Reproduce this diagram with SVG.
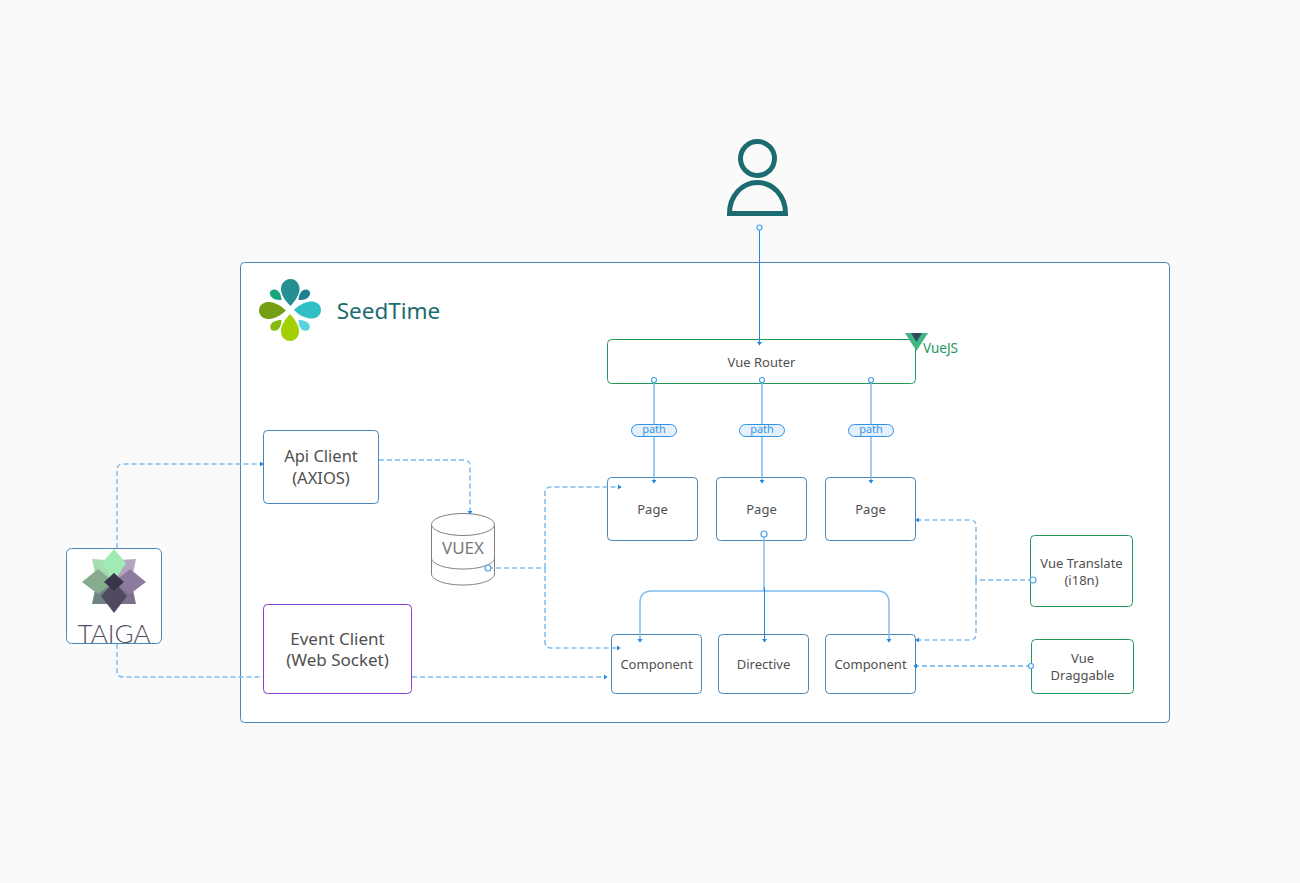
<svg xmlns="http://www.w3.org/2000/svg" width="1300" height="883" viewBox="0 0 1300 883">
<style>
.box{fill:#fff;stroke:#4a86b8;stroke-width:1}
.grn{fill:#fff;stroke:#22995a;stroke-width:1}
.pur{fill:#fff;stroke:#8a3fd1;stroke-width:1}
text{font-family:"Noto Sans","Open Sans","Liberation Sans",sans-serif;fill:#505050;text-anchor:middle}
.s13{font-size:13px}
.s16{font-size:16.500px}
.s17{font-size:17px}
.c{fill:none;stroke:#7fbcf0;stroke-width:1.500}
.d{stroke-dasharray:5 3}
.t{fill:none;stroke:#1e88e5;stroke-width:1}
.o{fill:#fff;stroke:#4ba3ec;stroke-width:1.200}
.pill{fill:#e4f1fc;stroke:#2f93e6;stroke-width:1}
.pt{font-size:11px;fill:#3c97e4}
</style>
<defs>
<marker id="a" markerWidth="6" markerHeight="6" refX="4" refY="3" orient="auto" markerUnits="userSpaceOnUse"><path d="M1 0.500L4.500 3L1 5.500Z" fill="#1e88e5"/></marker>
</defs>
<rect width="1300" height="883" fill="#fafafa"/>
<g id="container"><rect class="box" x="240.500" y="262.500" width="929" height="460" rx="4"/></g>
<g id="user" fill="none" stroke="#1c6b70" stroke-width="5"><circle cx="757.500" cy="158.500" r="17"/><path d="M729.500 213.500C729.500 196 742 182.500 757.500 182.500C773 182.500 785.500 196 785.500 213.500Z"/></g>
<g id="seedtime">
<path d="M290.500 279C297 279 300 285 299.500 290C298.500 297 294 302 290.500 306C286.500 302 282 297 281 290C280.500 285 284 279 290.500 279Z" fill="#258f92"/>
<path d="M290 341C283.500 341 280.500 335 281 330C282 323 286.500 318 290 314C293.500 318 298 323 299 330C299.500 335 296.500 341 290 341Z" fill="#a3d005"/>
<path d="M259 310.500C259 304 265 301.500 270 302C277 303 282 307 286 310.500C282 314 277 318 270 319C265 319.500 259 317 259 310.500Z" fill="#749f14"/>
<path d="M321 310C321 316.500 315 319 310 318.500C303 317.500 298 314 294 310C298 306 303 302.500 310 301.500C315 301 321 303.500 321 310Z" fill="#2fbfc4"/>
<path d="M270.500 291C273 288.500 277 289 279 292C281 295 281.500 298 281.500 300C279 300 275 300 272.500 298C270 296 269 293 270.500 291Z" fill="#14a57d"/>
<path d="M309.500 291C307 288.500 303 289 301 292C299 295 298.500 298 298.500 300C301 300 305 300 307.500 298C310 296 311 293 309.500 291Z" fill="#1c8090"/>
<path d="M271 329.500C273.500 331.500 277 331 279 328.500C281 326 281.500 322 281.500 320C279 320 275 320.500 272.500 322.500C270 324.500 269.500 327.500 271 329.500Z" fill="#85ba0e"/>
<path d="M309 329.500C306.500 331.500 303 331 301 328.500C299 326 298.500 322 298.500 320C301 320 305 320.500 307.500 322.500C310 324.500 310.500 327.500 309 329.500Z" fill="#55d6da"/>
<text x="388.500" y="319" style="font-size:22.500px;fill:#1c6b70">SeedTime</text>
</g>
<g id="vue-router"><rect class="grn" x="607.500" y="339.500" width="308" height="44" rx="4"/><text class="s13" x="761.500" y="366.500">Vue Router</text></g>
<g id="vuejs"><path d="M905 333H928L916.500 351Z" fill="#41b883"/><path d="M911 333H922L916.500 342Z" fill="#35495e"/><text x="940.500" y="353" style="font-size:13.500px;fill:#22995a">VueJS</text></g>
<g id="api-client"><rect class="box" x="263.500" y="430.500" width="115" height="73" rx="4"/><text class="s16" x="321" y="461.500">Api Client</text><text class="s16" x="321" y="483.500">(AXIOS)</text></g>
<g id="event-client"><rect class="pur" x="263.500" y="604.500" width="148" height="89" rx="4"/><text class="s17" x="337.500" y="644.500">Event Client</text><text class="s17" x="337.500" y="665.500">(Web Socket)</text></g>
<g id="taiga"><rect class="box" x="66.500" y="548.500" width="95" height="95" rx="5"/>
<path d="M92 559L108 560L114 582L95 573Z" fill="#a5dcb0"/><path d="M136 559L120 560L114 582L133 573Z" fill="#b3a5c0"/>
<path d="M92 604L95 590L114 582L108 604Z" fill="#6f8483"/><path d="M136 604L133 590L114 582L120 604Z" fill="#7e6f8a"/>
<path d="M82 582L98 569L114 582L98 594Z" fill="#86ab8d"/><path d="M146 582L130 569L114 582L130 594Z" fill="#8d7b9e"/>
<path d="M114 549L126 563L114 582L102 563Z" fill="#a0eab4"/><path d="M114 613L101 596L114 582L127 596Z" fill="#4f4a5f"/>
<path d="M114 573L124 582L114 591L104 582Z" fill="#3a3448"/>
<text x="114" y="643" style="font-size:26px;fill:#55505f;font-family:'Lato','Open Sans',sans-serif;font-weight:300">TAIGA</text></g>
<g id="vuex" fill="#fff" stroke="#808080" stroke-width="1">
<path d="M431.500 524.500V574C431.500 580 445 585 463 585C481 585 494.500 580 494.500 574V524.500"/>
<ellipse cx="463" cy="524.500" rx="31.500" ry="11"/>
<path d="M431.500 558C431.500 564 445 569 463 569C481 569 494.500 564 494.500 558" fill="none"/>
<text x="463" y="553.500" style="font-size:17px;fill:#7a7a7a;stroke:none">VUEX</text></g>
<g id="page-1"><rect class="box" x="607.500" y="477.500" width="90" height="63" rx="4"/><text class="s13" x="652.500" y="514">Page</text></g>
<g id="page-2"><rect class="box" x="716.500" y="477.500" width="90" height="63" rx="4"/><text class="s13" x="761.500" y="514">Page</text></g>
<g id="page-3"><rect class="box" x="825.500" y="477.500" width="90" height="63" rx="4"/><text class="s13" x="870.500" y="514">Page</text></g>
<g id="component-1"><rect class="box" x="611.500" y="634.500" width="90" height="59" rx="4"/><text class="s13" x="656.500" y="668.500">Component</text></g>
<g id="directive"><rect class="box" x="718.500" y="634.500" width="90" height="59" rx="4"/><text class="s13" x="763.500" y="668.500">Directive</text></g>
<g id="component-2"><rect class="box" x="825.500" y="634.500" width="90" height="59" rx="4"/><text class="s13" x="870.500" y="668.500">Component</text></g>
<g id="vue-translate"><rect class="grn" x="1030.500" y="535.500" width="102" height="71" rx="4"/><text class="s13" x="1081.500" y="568">Vue Translate</text><text class="s13" x="1081.500" y="585">(i18n)</text></g>
<g id="vue-draggable"><rect class="grn" x="1031.500" y="639.500" width="102" height="54" rx="4"/><text class="s13" x="1082.500" y="663">Vue</text><text class="s13" x="1082.500" y="680">Draggable</text></g>
<g id="connectors">
<path class="c d" d="M117 548V470Q117 464 123 464H263" marker-end="url(#a)"/>
<path class="c d" d="M117 644V671Q117 677 123 677H263"/>
<path class="c d" d="M379 460H464Q470 460 470 466V514" marker-end="url(#a)"/>
<path class="c d" d="M412 677H607" marker-end="url(#a)"/>
<path class="c d" d="M488 568H545"/>
<path class="c d" d="M545 568V493Q545 487 551 487H621" marker-end="url(#a)"/>
<path class="c d" d="M545 568V642Q545 648 551 648H620" marker-end="url(#a)"/>
<path class="c d" d="M1033 580H976"/>
<path class="c d" d="M976 580V526Q976 520 970 520H916" marker-end="url(#a)"/>
<path class="c d" d="M976 580V634Q976 640 970 640H916" marker-end="url(#a)"/>
<path class="t d" d="M1031 666H914" marker-end="url(#a)"/>
<path class="t" d="M759.500 228V345" marker-end="url(#a)"/>
<path class="c" d="M654 380V483" marker-end="url(#a)"/>
<path class="c" d="M762 380V483" marker-end="url(#a)"/>
<path class="c" d="M871 380V483" marker-end="url(#a)"/>
<path class="c" d="M764 534V591"/>
<path class="c" d="M764 591H652Q640 591 640 603V642" marker-end="url(#a)"/>
<path class="c" d="M764 591H877Q889 591 889 603V642" marker-end="url(#a)"/>
<path class="t" d="M764.500 587V642" marker-end="url(#a)"/>
</g>
<g id="ports">
<circle class="o" cx="759.500" cy="227.500" r="2.500"/>
<circle class="o" cx="654" cy="380" r="2.500"/><circle class="o" cx="762" cy="380" r="2.500"/><circle class="o" cx="871" cy="380" r="2.500"/>
<circle class="o" cx="764" cy="534" r="3"/><circle class="o" cx="488" cy="568" r="3"/><circle class="o" cx="1033" cy="580" r="3"/><circle class="o" cx="1031" cy="666" r="2.500"/>
</g>
<g id="path-labels">
<rect class="pill" x="631.500" y="424.500" width="45" height="12" rx="6"/><text class="pt" x="654" y="433">path</text>
<rect class="pill" x="739.500" y="424.500" width="45" height="12" rx="6"/><text class="pt" x="762" y="433">path</text>
<rect class="pill" x="848.500" y="424.500" width="45" height="12" rx="6"/><text class="pt" x="871" y="433">path</text>
</g>
</svg>
